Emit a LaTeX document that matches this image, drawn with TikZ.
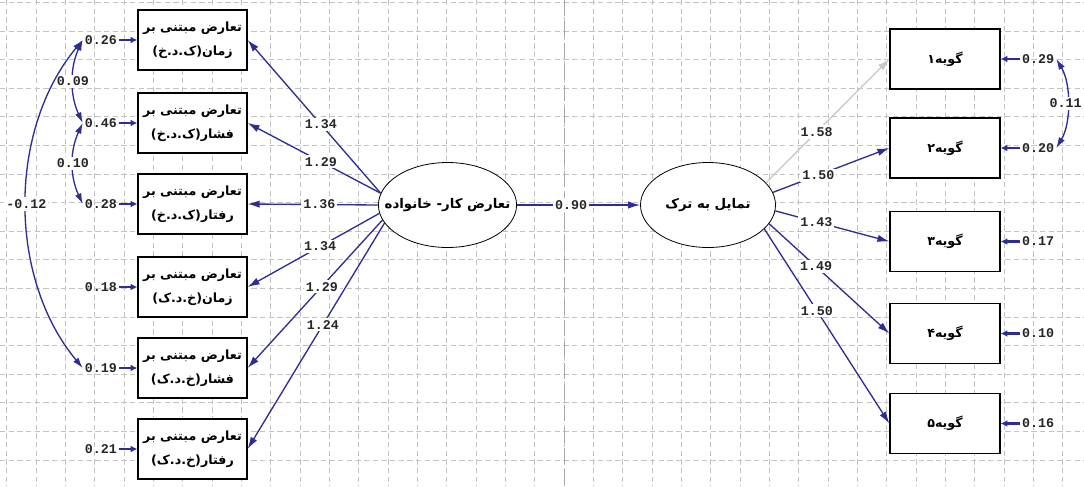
\documentclass[tikz,border=0pt]{standalone}
\usepackage{fontspec}
\usepackage{xcolor}
\usetikzlibrary{arrows.meta,shapes.geometric}
\TeXXeTstate=1
\newfontfamily\fafont[Script=Arabic]{DejaVu Sans}
\newfontfamily\numfont{Liberation Mono}
\definecolor{linkblue}{RGB}{45,45,150}
\definecolor{gridgray}{RGB}{195,195,195}
\definecolor{paleline}{RGB}{200,200,200}

\begin{document}
\begin{tikzpicture}[x=0.75pt,y=0.75pt,yscale=-1,xscale=1,
  box/.style={draw, fill=white, line width=0.9pt, minimum width=81.75pt, minimum height=45pt, inner sep=0pt, align=center, font=\fafont\bfseries\fontsize{9.5}{18}\selectfont},
  latent/.style={ellipse, draw, fill=white, line width=0.6pt, minimum width=101.25pt, minimum height=63.75pt, inner xsep=-10.5pt, inner ysep=0pt, font=\fafont\bfseries\fontsize{10}{12}\selectfont},
  errlab/.style={inner sep=1.5pt, text=black!85, font=\numfont\bfseries\fontsize{10}{12}\selectfont},
  coef/.style={fill=white, inner sep=1.5pt, text=black!85, font=\numfont\bfseries\fontsize{10}{12}\selectfont},
  loadarrow/.style={draw=linkblue, line width=1pt, -{Latex[length=9pt,width=5.5pt]}},
  errarrow/.style={draw=linkblue, line width=1.6pt, -{Latex[length=5pt,width=5pt]}},
  covar/.style={draw=linkblue, line width=1pt, {Latex[length=8pt,width=5pt]}-{Latex[length=8pt,width=5pt]}},
  gridline/.style={draw=gridgray, line width=0.6pt, dash pattern=on 4pt off 2.5pt},
  pageline/.style={draw=gray!70, line width=0.8pt, dash pattern=on 12pt off 4pt},
]
%set diagram left start at 0, and has height of 486
\fill[white] (0,0) rectangle (1084,486);
\useasboundingbox (0,0) rectangle (1084,486);

% Grid
\foreach \gx in {0,...,36} \draw[gridline] ({6.7+29.33*\gx},0) -- ({6.7+29.33*\gx},486);
\foreach \gy in {0,...,16} \draw[gridline] (0,{2.4+28.6*\gy}) -- (1084,{2.4+28.6*\gy});
% Page border
\draw[pageline] (564.7,0) -- (564.7,486);

% Latent Node
\node[latent] (conflict) at (447.5,205) {\beginR تعارض کار- خانواده\endR};
% Latent Node
\node[latent] (quit) at (708,205) {\beginR تمایل به ترک\endR};

% Box Node
\node[box] (z1) at (192.5,40) {\beginR تعارض مبتنی بر\endR\\\beginR زمان(ک.د.خ)\endR};
% Box Node
\node[box] (z2) at (192.5,123) {\beginR تعارض مبتنی بر\endR\\\beginR فشار(ک.د.خ)\endR};
% Box Node
\node[box] (z3) at (192.5,204) {\beginR تعارض مبتنی بر\endR\\\beginR رفتار(ک.د.خ)\endR};
% Box Node
\node[box] (z4) at (192.5,287) {\beginR تعارض مبتنی بر\endR\\\beginR زمان(خ.د.ک)\endR};
% Box Node
\node[box] (z5) at (192.5,368) {\beginR تعارض مبتنی بر\endR\\\beginR فشار(خ.د.ک)\endR};
% Box Node
\node[box] (z6) at (192.5,449) {\beginR تعارض مبتنی بر\endR\\\beginR رفتار(خ.د.ک)\endR};

% Box Node
\node[box, minimum width=82.5pt] (g1) at (945,59) {\beginR گویه۱\endR};
% Box Node
\node[box, minimum width=82.5pt] (g2) at (945,148) {\beginR گویه۲\endR};
% Box Node
\node[box, minimum width=82.5pt] (g3) at (945,241.5) {\beginR گویه۳\endR};
% Box Node
\node[box, minimum width=82.5pt] (g4) at (945,333.5) {\beginR گویه۴\endR};
% Box Node
\node[box, minimum width=82.5pt] (g5) at (945,423.5) {\beginR گویه۵\endR};

% Error Node
\node[errlab] (e1) at (101,40) {0.26};
\node[errlab] (e2) at (101,123) {0.46};
\node[errlab] (e3) at (101,204) {0.28};
\node[errlab] (e4) at (101,287) {0.18};
\node[errlab] (e5) at (101,368) {0.19};
\node[errlab] (e6) at (101,449) {0.21};
% Error Node
\node[errlab] (r1) at (1038,59) {0.29};
\node[errlab] (r2) at (1038,148) {0.20};
\node[errlab] (r3) at (1038,241.5) {0.17};
\node[errlab] (r4) at (1038,333.5) {0.10};
\node[errlab] (r5) at (1038,423.5) {0.16};

% Connection
\draw[errarrow] (e1) -- (z1);
\draw[errarrow] (e2) -- (z2);
\draw[errarrow] (e3) -- (z3);
\draw[errarrow] (e4) -- (z4);
\draw[errarrow] (e5) -- (z5);
\draw[errarrow] (e6) -- (z6);
% Connection
\draw[errarrow] (r1) -- (g1);
\draw[errarrow] (r2) -- (g2);
\draw[errarrow] (r3) -- (g3);
\draw[errarrow] (r4) -- (g4);
\draw[errarrow] (r5) -- (g5);

% Connection
\draw[loadarrow] (conflict.170) -- (z1.east) node[coef, pos=0.45] {1.34};
\draw[loadarrow] (conflict.170) -- (z2.east) node[coef, pos=0.45] {1.29};
\draw[loadarrow] (conflict.180) -- (z3.east) node[coef, pos=0.45] {1.36};
\draw[loadarrow] (conflict.187) -- (z4.east) node[coef, pos=0.45] {1.34};
\draw[loadarrow] (conflict.193) -- (z5.east) node[coef, pos=0.45] {1.29};
\draw[loadarrow] (conflict.196) -- (z6.east) node[coef, pos=0.45] {1.24};

% Connection
\draw[loadarrow] (conflict) -- (quit) node[coef, pos=0.44] {0.90};

% Connection
\draw[loadarrow, draw=paleline] (quit.21) -- (g1.west) node[coef, pos=0.41] {1.58};
\draw[loadarrow] (quit.11) -- (g2.west) node[coef, pos=0.39] {1.50};
\draw[loadarrow] (quit.355) -- (g3.west) node[coef, pos=0.36] {1.43};
\draw[loadarrow] (quit.343) -- (g4.west) node[coef, pos=0.39] {1.49};
\draw[loadarrow] (quit.337) -- (g5.west) node[coef, pos=0.42] {1.50};

% Covariance
\draw[covar] (e1.west) .. controls +(-13,28) and +(-13,-28) .. (e2.west) node[coef, pos=0.5] {0.09};
\draw[covar] (e2.west) .. controls +(-13,28) and +(-13,-28) .. (e3.west) node[coef, pos=0.5] {0.10};
\draw[covar] (e1.west) .. controls +(-75,90) and +(-75,-90) .. (e5.west) node[coef, pos=0.5] {-0.12};
\draw[covar] (r1.east) .. controls +(15,25) and +(15,-25) .. (r2.east) node[coef, pos=0.5, xshift=-1.5pt] {0.11};

\end{tikzpicture}
\end{document}
